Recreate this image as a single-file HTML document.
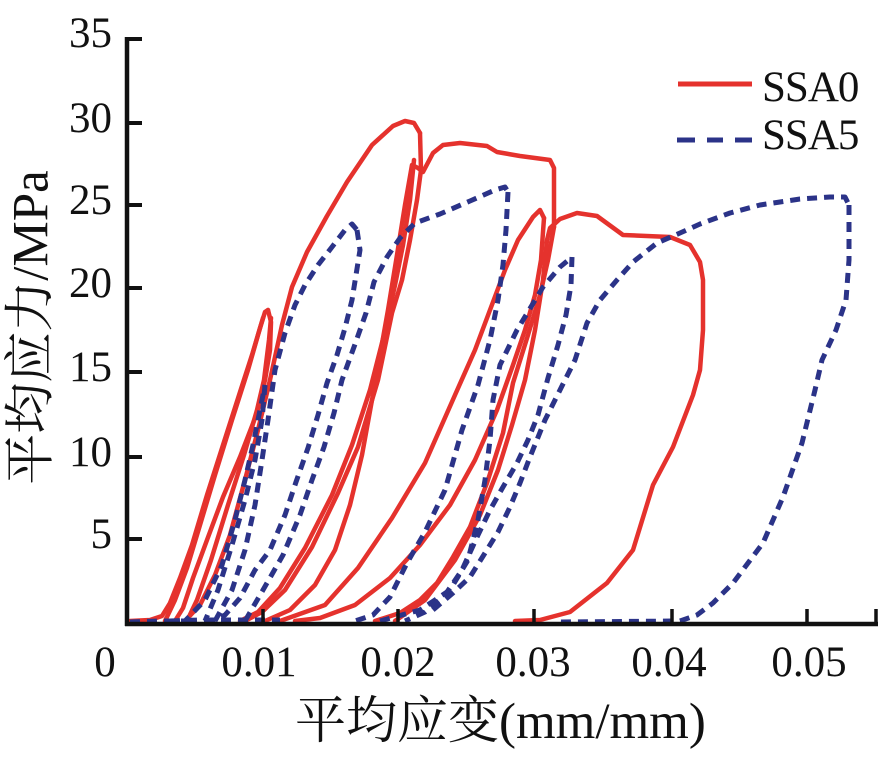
<!DOCTYPE html>
<html>
<head>
<meta charset="utf-8">
<style>
html,body{margin:0;padding:0;background:#fff;}
body{position:relative;width:881px;height:760px;overflow:hidden;}
svg{display:block;position:absolute;left:0;top:0;}
.t{position:absolute;font-family:"Liberation Serif","DejaVu Serif","Noto Serif CJK SC","Noto Sans CJK SC",serif;color:#111;white-space:nowrap;}
.yl{font-size:43px;line-height:43px;height:43px;width:80px;left:32px;text-align:right;}
.xl{font-size:43px;line-height:43px;height:43px;width:120px;text-align:center;top:641px;}
.lg{font-size:43px;line-height:43px;height:43px;left:762px;letter-spacing:-1px;}
</style>
</head>
<body>
<svg width="881" height="760" viewBox="0 0 881 760" xmlns="http://www.w3.org/2000/svg">
<rect width="881" height="760" fill="#fff"/>

<!-- Red SSA0 curves -->
<g fill="none" stroke="#e5322d" stroke-width="4.5" stroke-linejoin="round" stroke-linecap="round">
<polyline points="130,621 150,620 162,616 170,603 180,578 192,545 207,495 223,445 240,392 252,355 260,328 265,312 268,310"/>
<polyline points="268,310 271,322 270,350 265,380 257,413 240,457 223,497 207,540 193,578 183,608 175,621"/>
<polyline points="187,621 197,600 211,560 228,505 244,455 257,410 264,380 269,340 271,318"/>
<polyline points="165,621 175,600 187,568 200,525 215,475 232,420 248,370 258,335 263,318"/>
<polyline points="185,621 200,605 215,575 230,535 245,480 258,430 270,380 282,325 292,287 307,252 327,216 347,182 372,145 393,126 405,121 414,123 420,133"/>
<polyline points="420,133 421,170 417,200 410,240 402,280 392,313 378,380 358,447 338,493 312,547 285,590 262,612 245,621"/>
<polyline points="414,160 410,200 403,245 395,285 384,335 370,390 352,445 332,495 305,548 280,588 258,612 240,621"/>
<polyline points="265,621 290,610 315,585 335,550 350,505 362,455 372,400 380,355 388,310 397,255 405,205 412,165 418,168 423,172 433,153 443,145 460,143 487,146 497,152 520,156 550,160 554,168 554,227"/>
<polyline points="554,227 548,260 540,295 528,335 513,383 503,433 487,483 470,527 453,557 437,583 420,600 400,613 375,621"/>
<polyline points="280,621 325,605 358,568 392,518 425,463 455,395 475,350 490,310 505,270 518,240 533,217 540,210 544,218"/>
<polyline points="544,218 541,260 535,295 525,330 513,365 497,410 475,460 450,505 420,545 390,578 355,605 320,618 295,621"/>
<polyline points="395,621 425,600 455,560 480,515 498,470 512,425 525,380 535,330 543,280 547,240 550,228 560,219 577,213 597,216 623,235 670,237 690,245 700,262 703,280 703,330 700,370 693,395 673,447 653,485 633,550 607,583 570,612 540,620 515,621"/>
</g>

<!-- Blue SSA5 curves -->
<g fill="none" stroke="#2b3388" stroke-width="5" stroke-dasharray="10 7" stroke-linejoin="round">
<polyline points="130,622 160,621 185,621 205,600 222,565 235,520 245,480 253,445 260,410 265,385"/>
<polyline points="265,385 262,420 255,460 245,500 232,545 218,590 205,621"/>
<polyline points="215,621 232,590 245,550 255,505 262,460 268,420 275,370 285,333 295,305 305,285 318,265 332,247 345,230 352,224 357,230"/>
<polyline points="357,230 360,250 356,275 352,300 345,328 337,355 327,383 318,415 308,448 296,482 285,515 270,550 255,570 240,598 225,615 212,621"/>
<polyline points="245,621 263,590 283,555 300,515 312,480 324,447 334,413 342,380 354,347 366,313 374,282 387,257 400,238 415,223 440,214 470,201 495,190 505,187 508,192"/>
<polyline points="508,192 506,230 503,265 498,300 490,340 478,385 462,430 445,490 425,532 407,563 390,597 373,615 355,621"/>
<polyline points="380,621 420,610 450,590 468,560 478,520 485,480 490,440 493,400 500,365 517,330 543,287 560,267 572,257"/>
<polyline points="572,257 571,285 566,315 558,345 548,378 538,415 528,440 517,463 503,487 490,510 478,535 462,570 445,595 425,612 405,621"/>
<polyline points="433,610 453,593 470,577 485,553 498,532 510,507 520,483 530,457 545,420 560,390 575,360 587,323 600,300 617,280 633,262 657,243 680,233 700,224 730,213 760,205 800,199 830,197 845,197 849,205"/>
<polyline points="849,205 849,260 846,300 836,330 822,360 815,390 802,443 783,497 763,543 733,583 713,603 697,615 680,621 560,622"/>
<polyline points="170,621 200,620 240,620 280,620"/>
</g>

<!-- Axes -->
<g stroke="#111" fill="none">
<line x1="127" y1="37" x2="127" y2="626" stroke-width="4.5"/>
<line x1="125" y1="624" x2="878" y2="624" stroke-width="4.5"/>
<g stroke-width="4">
<line x1="127" y1="39" x2="142" y2="39"/>
<line x1="127" y1="123" x2="142" y2="123"/>
<line x1="127" y1="205" x2="142" y2="205"/>
<line x1="127" y1="288" x2="142" y2="288"/>
<line x1="127" y1="372" x2="142" y2="372"/>
<line x1="127" y1="457" x2="142" y2="457"/>
<line x1="127" y1="539" x2="142" y2="539"/>
</g>
<g stroke-width="3.5">
<line x1="263" y1="624" x2="263" y2="609"/>
<line x1="398" y1="624" x2="398" y2="609"/>
<line x1="534" y1="624" x2="534" y2="609"/>
<line x1="672" y1="624" x2="672" y2="609"/>
<line x1="807" y1="624" x2="807" y2="609"/>
<line x1="876" y1="624" x2="876" y2="609"/>
</g>
</g>

<!-- Legend markers -->
<line x1="678" y1="84" x2="752" y2="84" stroke="#e5322d" stroke-width="5"/>
<g stroke="#2b3388" stroke-width="5">
<line x1="677" y1="140" x2="695" y2="140"/>
<line x1="707" y1="140" x2="723" y2="140"/>
<line x1="735" y1="140" x2="752" y2="140"/>
</g>
</svg>

<!-- Y tick labels -->
<div class="t yl" style="top:12px;">35</div>
<div class="t yl" style="top:97px;">30</div>
<div class="t yl" style="top:179px;">25</div>
<div class="t yl" style="top:262px;">20</div>
<div class="t yl" style="top:346px;">15</div>
<div class="t yl" style="top:431px;">10</div>
<div class="t yl" style="top:513px;">5</div>

<!-- X tick labels -->
<div class="t xl" style="left:45px;">0</div>
<div class="t xl" style="left:199px;">0.01</div>
<div class="t xl" style="left:338px;">0.02</div>
<div class="t xl" style="left:473px;">0.03</div>
<div class="t xl" style="left:609px;">0.04</div>
<div class="t xl" style="left:749px;">0.05</div>

<!-- Axis titles -->
<div class="t" style="left:295px;top:697px;font-size:51px;line-height:51px;height:51px;">平均应变(mm/mm)</div>
<div class="t" style="left:-128px;top:302px;width:320px;height:51px;font-size:51px;line-height:51px;text-align:center;transform:rotate(-90deg);transform-origin:160px 25.5px;">平均应力/MPa</div>

<!-- Legend labels -->
<div class="t lg" style="top:66px;">SSA0</div>
<div class="t lg" style="top:114px;">SSA5</div>
</body>
</html>
